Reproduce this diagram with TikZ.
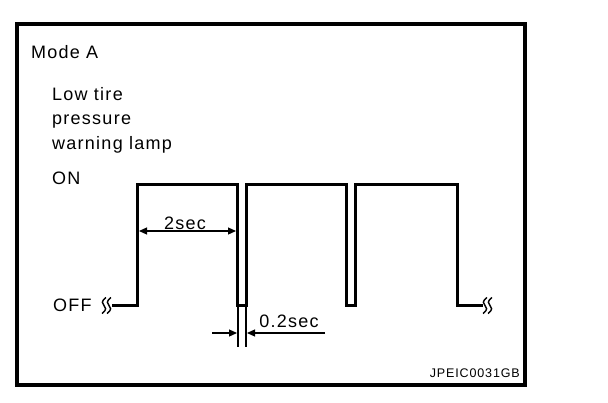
\documentclass[tikz,border=0pt]{standalone}
\usepackage{fontspec}
\setmainfont{Liberation Sans}[LetterSpace=7]
\usetikzlibrary{arrows.meta}

\begin{document}
\begin{tikzpicture}[x=1pt,y=-1pt,
    lbl/.style={inner sep=0pt,anchor=base west,font=\fontsize{18}{21}\selectfont},
    dimlbl/.style={lbl,anchor=base},
    dimline/.style={line width=1.2pt,{Triangle[length=8pt,width=7pt]}-{Triangle[length=8pt,width=7pt]}},
    dimtip/.style={line width=1.2pt,-{Triangle[length=8pt,width=7pt]}},
    wave/.style={line width=3pt,line join=miter},
    brk/.style={line width=1.4pt}]
  \useasboundingbox (0,0) rectangle (608,402);
  \draw[line width=4pt] (17,24) rectangle (525,385);
  % texts
  \node[lbl] (mode) at (31,58) {Mode A};
  \node[lbl] (lamp1) at (52,100) {Low tire};
  \node[lbl] (lamp2) at (52,124.5) {pressure};
  \node[lbl] (lamp3) at (52,149) {warning lamp};
  \node[lbl] (on) at (52,184) {ON};
  \node[lbl] (off) at (53,311.5) {OFF};
  \node[inner sep=0pt,anchor=base east,font=\fontsize{12.5}{15}\selectfont] (code) at (520,377) {JPEIC0031GB};
  % lamp signal
  \foreach \u/\d [count=\i] in {137.5/237.5,246.5/346.5,355.5/457.5} {
    \coordinate (up\i) at (\u,184);
    \coordinate (dn\i) at (\d,305);
  }
  \coordinate (start) at (112,305);
  \coordinate (stop) at (483,305);
  \draw[wave] (start) -| (up1) -| (dn1) -| (up2) -| (dn2) -| (up3) -| (dn3) -- (stop);
  \foreach \x in {104,109,485,490}
    \draw[brk] (\x+2,297.5) .. controls (\x-3,301) and (\x-2,304) .. (\x,305.5)
      .. controls (\x+2,307) and (\x+3,310) .. (\x-2,313.5);
  % 2sec
  \coordinate (a1) at (139,231);
  \coordinate (a2) at (236,231);
  \draw[dimline] (a1) -- (a2);
  \node[dimlbl] (t2) at (185,229) {2sec};
  % 0.2sec
  \draw[line width=1.6pt] (238,305) -- (238,347) (246,305) -- (246,347);
  \coordinate (b0) at (212,333);
  \coordinate (b1) at (237,333);
  \coordinate (b2) at (247,333);
  \coordinate (b3) at (325,333);
  \draw[dimtip] (b0) -- (b1);
  \draw[dimtip] (b3) -- (b2);
  \node[dimlbl] (t02) at (289,327) {0.2sec};
\end{tikzpicture}
\end{document}
